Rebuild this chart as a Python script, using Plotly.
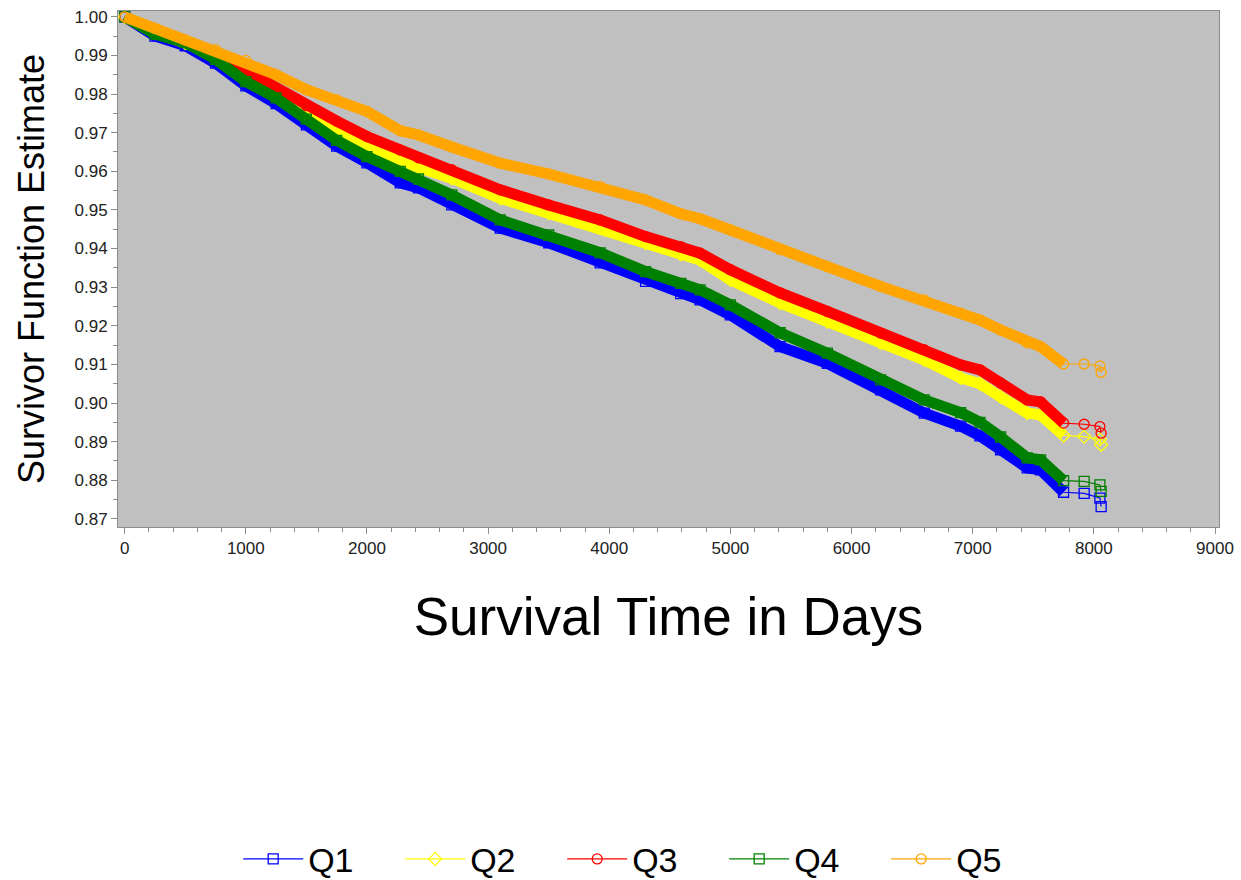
import plotly.graph_objects as go

# Kaplan-Meier survivor estimates by quintile group (days, survival probability)
days = [0, 250, 500, 750, 1000, 1250, 1500, 1750, 2000, 2275, 2425, 2700, 3100,
        3500, 3925, 4300, 4590, 4750, 5000, 5410, 5800, 6240, 6600, 6900, 7060,
        7230, 7450, 7560, 7750, 7920, 8050, 8060]

q1 = [1.000, 0.9950, 0.9925, 0.9880, 0.9821, 0.9775, 0.9720, 0.9665, 0.9622,
      0.9570, 0.9557, 0.9513, 0.9453, 0.9415, 0.9363, 0.9315, 0.9283, 0.9267,
      0.9228, 0.9146, 0.9103, 0.9034, 0.8974, 0.8940, 0.8915, 0.8879, 0.8832,
      0.8827, 0.8769, 0.8766, 0.8754, 0.8732]
q2 = [1.000, 0.9958, 0.9932, 0.9900, 0.9853, 0.9805, 0.9755, 0.9710, 0.9664,
      0.9625, 0.9612, 0.9582, 0.9530, 0.9492, 0.9453, 0.9414, 0.9385, 0.9370,
      0.9319, 0.9259, 0.9211, 0.9155, 0.9112, 0.9065, 0.9050, 0.9016, 0.8974,
      0.8969, 0.8916, 0.8913, 0.8906, 0.8892]
q3 = [1.000, 0.9960, 0.9935, 0.9905, 0.9860, 0.9815, 0.9770, 0.9730, 0.9690,
      0.9655, 0.9635, 0.9604, 0.9552, 0.9513, 0.9474, 0.9431, 0.9405, 0.9388,
      0.9345, 0.9285, 0.9237, 0.9181, 0.9138, 0.9099, 0.9086, 0.9052, 0.9008,
      0.9003, 0.8948, 0.8945, 0.8939, 0.8922]
q4 = [1.000, 0.9955, 0.9933, 0.9890, 0.9832, 0.9790, 0.9735, 0.9680, 0.9638,
      0.9600, 0.9580, 0.9539, 0.9474, 0.9435, 0.9389, 0.9340, 0.9310, 0.9293,
      0.9254, 0.9182, 0.9129, 0.9060, 0.9008, 0.8975, 0.8950, 0.8912, 0.8858,
      0.8853, 0.8799, 0.8797, 0.8788, 0.8771]
q5 = [1.000, 0.9970, 0.9940, 0.9915, 0.9887, 0.9850, 0.9811, 0.9785, 0.9755,
      0.9705, 0.9694, 0.9663, 0.9621, 0.9593, 0.9561, 0.9526, 0.9490, 0.9477,
      0.9448, 0.9397, 0.9353, 0.9302, 0.9267, 0.9233, 0.9215, 0.9189, 0.9156,
      0.9146, 0.9101, 0.9101, 0.9096, 0.9079]

groups = ["Q1", "Q2", "Q3", "Q4", "Q5"]
series = [q1, q2, q3, q4, q5]
colors = ["#0000FF", "#FFFF00", "#FF0000", "#008000", "#FFA500"]
symbols = ["square-open", "diamond-open", "circle-open", "square-open", "circle-open"]

# the dense stretch of censoring marks forms a solid band up to this index
dense_end = 28

font_family = "Liberation Sans, Arial, sans-serif"

fig = go.Figure()
for name, ys, col, sym in zip(groups, series, colors, symbols):
    fig.add_trace(go.Scatter(
        x=days[:dense_end + 1], y=ys[:dense_end + 1], mode="lines",
        line=dict(color=col, width=11), hoverinfo="skip", showlegend=False,
    ))
    fig.add_trace(go.Scatter(
        x=days, y=ys, mode="lines+markers", name=name,
        line=dict(color=col, width=1.2),
        marker=dict(symbol=sym, size=10, color=col, line=dict(width=1.3, color=col)),
    ))

axis_common = dict(
    showline=True, linecolor="#8C8C8C", linewidth=1, mirror=True,
    ticks="outside", tickcolor="#8C8C8C", ticklen=6, tickwidth=1,
    showgrid=False, zeroline=False,
    tickfont=dict(family=font_family, size=17, color="#222222"),
)

fig.update_xaxes(
    **axis_common,
    range=[-55, 9033], tickmode="linear", tick0=0, dtick=1000,
    minor=dict(ticks="outside", dtick=200, ticklen=4, tickcolor="#8C8C8C", showgrid=False),
    title=dict(text="Survival Time in Days", standoff=40,
               font=dict(family=font_family, size=53, color="#000000")),
)
fig.update_yaxes(
    **axis_common,
    range=[0.8679, 1.0015], tickmode="linear", tick0=0.87, dtick=0.01, tickformat=".2f",
    minor=dict(ticks="outside", dtick=0.005, ticklen=4, tickcolor="#8C8C8C", showgrid=False),
    title=dict(text="Survivor Function Estimate", standoff=18,
               font=dict(family=font_family, size=36, color="#000000")),
)

fig.update_layout(
    width=1241, height=880,
    margin=dict(l=118, r=22, t=11, b=353, autoexpand=False),
    plot_bgcolor="#C0C0C0", paper_bgcolor="#FFFFFF",
    legend=dict(
        orientation="h", x=0.477, xanchor="center", y=-0.644, yanchor="middle",
        font=dict(family=font_family, size=34, color="#000000"),
        entrywidth=87, entrywidthmode="pixels", itemwidth=60,
        bgcolor="rgba(0,0,0,0)",
    ),
)

fig.write_html("out.html")
